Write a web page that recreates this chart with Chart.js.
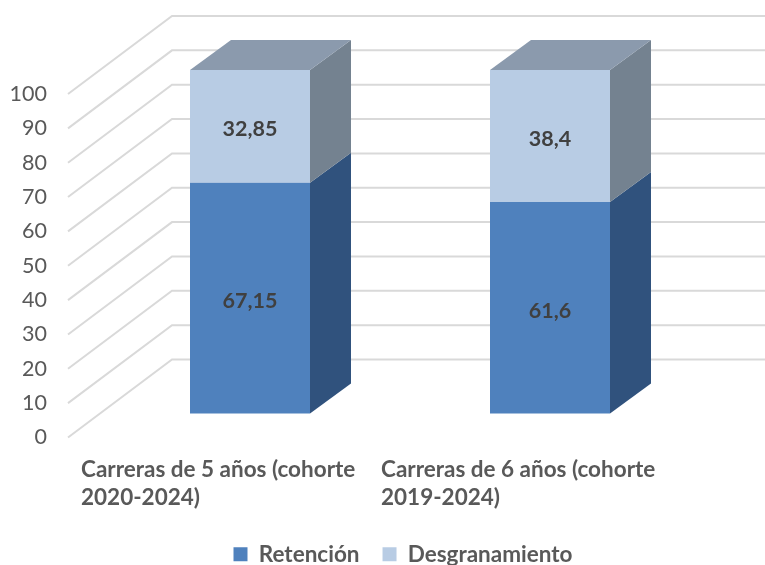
<!DOCTYPE html>
<html><head><meta charset="utf-8">
<style>html,body{margin:0;padding:0;background:#fff}#w{width:765px;height:565px}</style>
<script src="https://cdn.jsdelivr.net/npm/chart.js@4/dist/chart.umd.min.js"></script>
</head><body><div id="w"><canvas id="c"></canvas></div>
<script>
const categories=[["Carreras de 5 años (cohorte","2020-2024)"],["Carreras de 6 años (cohorte","2019-2024)"]];
const retencion=[67.15,61.6];
const desgranamiento=[32.85,38.4];
const yTicks=[0,10,20,30,40,50,60,70,80,90,100];
const FONT='Lato';
const faces=[{side:'#30527d'},{side:'#748290',top:'#8b9aad'}];
const wall={dx:104,dy:-78,right:765}, barShift={dx:32,dy:-24}, barDepth={dx:41,dy:-30};
function poly(ctx,pts,fill){ctx.fillStyle=fill;ctx.beginPath();pts.forEach((p,i)=>i?ctx.lineTo(p[0],p[1]):ctx.moveTo(p[0],p[1]));ctx.closePath();ctx.fill();}
const threeD={id:'threeD',
 afterLayout(chart){chart.legend.left=41;chart.legend.right=765;chart.legend.top+=10.5;},
 beforeDatasetsDraw(chart){
  const ctx=chart.ctx,y=chart.scales.y,l=chart.chartArea.left;
  ctx.save();ctx.strokeStyle='#d9d9d9';ctx.lineWidth=2;
  yTicks.forEach(v=>{const py=y.getPixelForValue(v);ctx.beginPath();ctx.moveTo(l,py);ctx.lineTo(l+wall.dx,py+wall.dy);ctx.lineTo(wall.right,py+wall.dy);ctx.stroke();});
  ctx.restore();
  ctx.save();ctx.translate(barShift.dx,barShift.dy);
  chart.data.datasets.forEach((ds,d)=>{chart.getDatasetMeta(d).data.forEach(b=>{
    const r=b.x+b.width/2,le=b.x-b.width/2,{dx,dy}=barDepth;
    poly(ctx,[[r,b.base],[r+dx,b.base+dy],[r+dx,b.y+dy],[r,b.y]],faces[d].side);
    if(faces[d].top)poly(ctx,[[le,b.y],[le+dx,b.y+dy],[r+dx,b.y+dy],[r,b.y]],faces[d].top);
  });});
 },
 afterDatasetsDraw(chart){
  const ctx=chart.ctx;
  ctx.fillStyle='#404040';ctx.font='bold 21.5px '+FONT;ctx.textAlign='center';ctx.textBaseline='middle';
  chart.data.datasets.forEach((ds,d)=>{chart.getDatasetMeta(d).data.forEach((b,i)=>{
    ctx.fillText(String(ds.data[i]).replace('.',','),b.x,(b.y+b.base)/2+3);
  });});
  ctx.restore();
 }};
new Chart(document.getElementById('c'),{type:'bar',plugins:[threeD],
 data:{labels:categories,datasets:[
  {label:'Retención',data:retencion,backgroundColor:'#4f81bd',clip:false},
  {label:'Desgranamiento',data:desgranamiento,backgroundColor:'#b8cce4',clip:false}]},
 options:{responsive:true,maintainAspectRatio:false,animation:false,
  layout:{padding:{left:0,right:97,top:94,bottom:0}},
  barPercentage:0.4,categoryPercentage:1,
  plugins:{tooltip:{enabled:false},
   legend:{position:'bottom',labels:{boxWidth:14,boxHeight:14,padding:23,color:'#595959',font:{family:FONT,size:22.5,weight:'bold'}}}},
  scales:{
   x:{stacked:true,grid:{display:false},border:{display:false},
    afterFit(s){s.height=72;s.paddingLeft=0;s.paddingRight=0;},
    afterUpdate(s){if(!s._shifted){s._shifted=true;s._computeLabelArea=()=>undefined;const d=s.drawLabels;s.drawLabels=function(a){const c=this.ctx;c.save();c.translate(-137,0);d.call(this,a);c.restore();};}},
    ticks:{align:'start',maxRotation:0,autoSkip:false,padding:11,color:'#595959',font:{family:FONT,size:22.5,weight:'bold',lineHeight:1.22}}},
   y:{stacked:true,min:0,max:100,grid:{display:false},border:{display:false},
    afterFit(s){s.width=68;s.paddingTop=0;s.paddingBottom=0;},
    ticks:{stepSize:10,padding:13,color:'#595959',font:{family:FONT,size:21.5}}}
  }}});
</script></body></html>
